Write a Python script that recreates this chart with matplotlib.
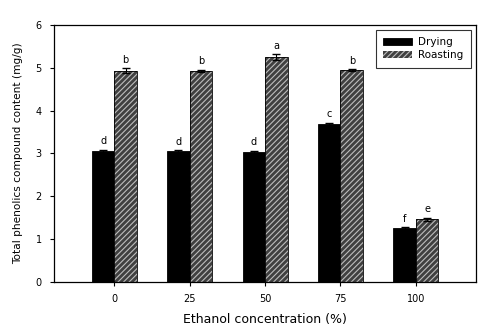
import matplotlib
matplotlib.use("Agg")
import matplotlib.pyplot as plt
import numpy as np

plt.rcParams["font.family"] = ["DejaVu Sans"]
plt.rcParams["hatch.linewidth"] = 0.8

categories = ["0", "25", "50", "75", "100"]
drying = [3.06, 3.05, 3.03, 3.69, 1.25]
roasting = [4.93, 4.93, 5.25, 4.94, 1.46]
drying_err = [0.03, 0.03, 0.03, 0.03, 0.02]
roasting_err = [0.06, 0.02, 0.07, 0.02, 0.04]
drying_letters = ["d", "d", "d", "c", "f"]
roasting_letters = ["b", "b", "a", "b", "e"]

fig = plt.figure(figsize=(4.79, 3.27), dpi=100)
ax = fig.add_axes([0.113, 0.138, 0.881, 0.786])

x = np.arange(len(categories))
w = 0.3
ax.bar(x - w / 2, drying, w, color="black", edgecolor="black", linewidth=0.6,
       yerr=drying_err, error_kw=dict(ecolor="black", capsize=3, lw=0.8),
       label="Drying")
# hatched fill (light stripes on dark grey), then black outline on top
ax.bar(x + w / 2, roasting, w, color="#404040", edgecolor="#bdbdbd", linewidth=0,
       hatch="//////", label="Roasting")
ax.bar(x + w / 2, roasting, w, color="none", edgecolor="black", linewidth=0.6,
       yerr=roasting_err, error_kw=dict(ecolor="black", capsize=3, lw=0.8))

for xi, v, e, t in zip(x, drying, drying_err, drying_letters):
    ax.text(xi - w / 2, v + e + 0.08, t, ha="center", va="bottom", fontsize=7)
for xi, v, e, t in zip(x, roasting, roasting_err, roasting_letters):
    ax.text(xi + w / 2, v + e + 0.08, t, ha="center", va="bottom", fontsize=7)

ax.set_xlim(-0.8, 4.8)
ax.set_ylim(0, 6)
ax.set_xticks(x)
ax.set_xticklabels(categories)
ax.set_yticks(range(7))
ax.tick_params(labelsize=7, length=3, width=0.8, direction="out", pad=6)
for s in ax.spines.values():
    s.set_linewidth(0.9)

ax.set_xlabel("Ethanol concentration (%)", fontsize=9, labelpad=6)
ax.set_ylabel("Total phenolics compound content (mg/g)", fontsize=7.6, labelpad=9)

leg = ax.legend(loc="upper right", fontsize=7.5, frameon=True, fancybox=False,
                edgecolor="black", handlelength=2.8, handleheight=0.7,
                borderpad=0.7, labelspacing=0.3, borderaxespad=0.5,
                handletextpad=0.6)
leg.get_frame().set_linewidth(0.8)

fig.savefig("out.png", dpi=100)
